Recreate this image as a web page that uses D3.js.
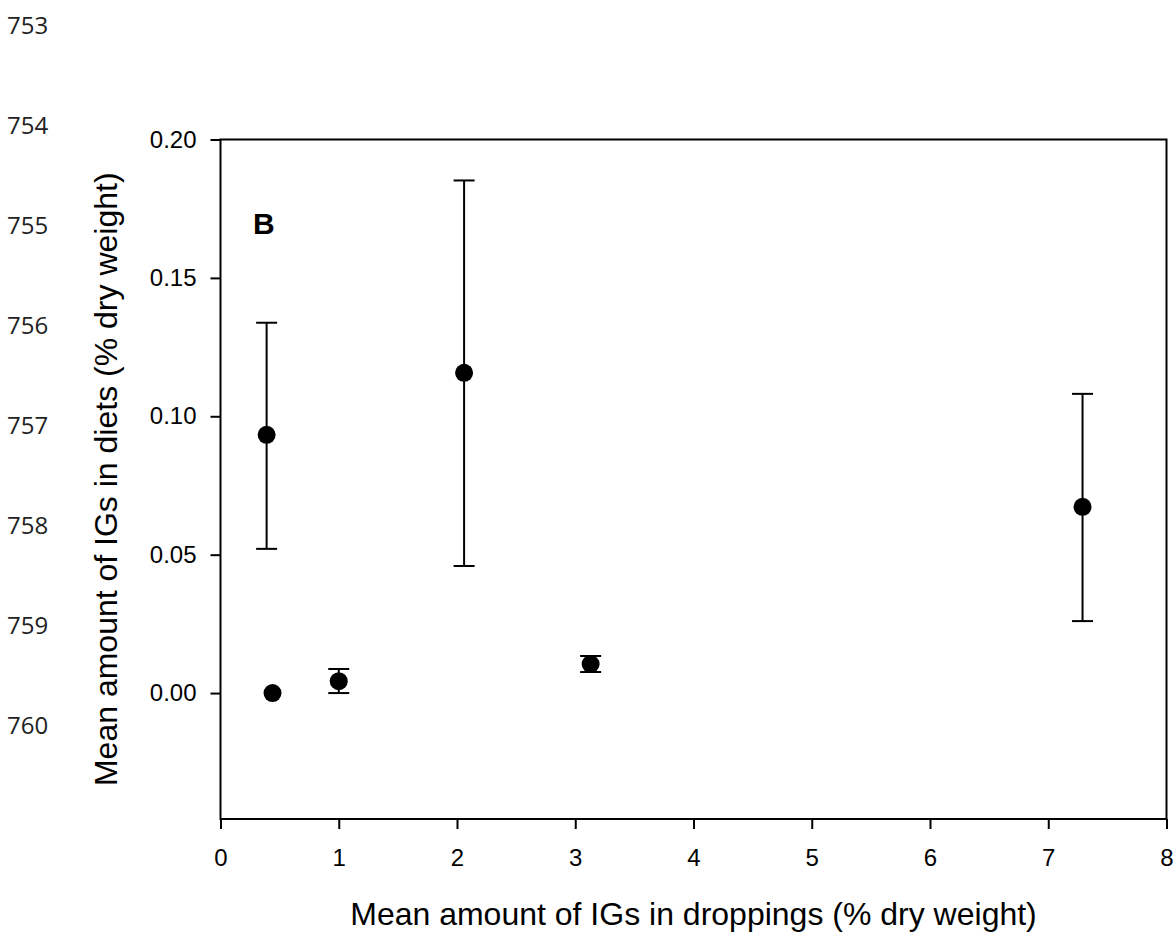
<!DOCTYPE html>
<html>
<head>
<meta charset="utf-8">
<script src="https://cdn.jsdelivr.net/npm/d3@7"></script>
<style>
  body { margin: 0; background: #fff; }
  svg { display: block; }
  .axis text { font-family: "Liberation Sans", Arial, sans-serif; font-size: 24px; fill: #000; }
  .axis path, .axis line { stroke: #000; stroke-width: 2; }
</style>
</head>
<body>
<svg width="1176" height="941"></svg>
<script>
// ---- Dados
const xVals = [0.39, 0.44, 1.00, 2.06, 3.13, 7.29];
const yVals = [0.0933, 0.0000, 0.0043, 0.1157, 0.0105, 0.0673];
const errLow = [0.0521, null, 0.0000, 0.0459, 0.0076, 0.0260];
const errHigh = [0.1338, null, 0.0087, 0.1852, 0.0134, 0.1081];
const xTicks = [0, 1, 2, 3, 4, 5, 6, 7, 8];
const yTicks = [0.00, 0.05, 0.10, 0.15, 0.20];
const lineNumbers = ['753', '754', '755', '756', '757', '758', '759', '760'];

const margens = { left: 220.5, right: 9.5, top: 139.5, bottom: 122 };
const svg = d3.select('svg');
const width = 1176 - margens.left - margens.right;
const height = 941 - margens.top - margens.bottom;

// ---- Escalas
const mapX = d3.scaleLinear().domain([0, 8]).range([0, width]);
const mapY = d3.scaleLinear().domain([-0.0455, 0.20]).range([height, 0]);

// ---- Numeros de linha (margem do manuscrito)
svg.append('g')
    .selectAll('text')
    .data(lineNumbers)
    .join('text')
    .attr('x', 7)
    .attr('y', (d, i) => 33.5 + i * 100)
    .attr('font-family', '"Open Sans", sans-serif')
    .attr('font-size', 24)
    .attr('fill', '#222')
    .text(d => d);

const g = svg.append('g')
    .attr('transform', `translate(${margens.left}, ${margens.top})`);

// ---- Moldura
g.append('rect')
    .attr('width', width)
    .attr('height', height)
    .attr('fill', 'none')
    .attr('stroke', '#000')
    .attr('stroke-width', 2);

// ---- Eixos
const xAxis = d3.axisBottom(mapX).tickValues(xTicks).tickFormat(d3.format('d')).tickSize(10).tickSizeOuter(0).tickPadding(20);
g.append('g')
    .attr('class', 'x axis')
    .attr('transform', `translate(0, ${height})`)
    .call(xAxis);

const yAxis = d3.axisLeft(mapY).tickValues(yTicks).tickFormat(d3.format('.2f')).tickSize(10).tickSizeOuter(0).tickPadding(14);
g.append('g')
    .attr('class', 'y axis')
    .call(yAxis);

g.selectAll('.axis .domain').remove();

// ---- Titulos
svg.append('text')
    .attr('x', margens.left + width / 2)
    .attr('y', 925)
    .attr('text-anchor', 'middle')
    .attr('font-family', '"Liberation Sans", Arial, sans-serif')
    .attr('font-size', 32)
    .text('Mean amount of IGs in droppings (% dry weight)');

svg.append('text')
    .attr('transform', `translate(117, ${margens.top + height / 2}) rotate(-90)`)
    .attr('text-anchor', 'middle')
    .attr('font-family', '"Liberation Sans", Arial, sans-serif')
    .attr('font-size', 32)
    .text('Mean amount of IGs in diets (% dry weight)');

g.append('text')
    .attr('x', 32.5)
    .attr('y', 94)
    .attr('font-family', '"Liberation Sans", Arial, sans-serif')
    .attr('font-size', 30)
    .attr('font-weight', 'bold')
    .text('B');

// ---- Barras de erro
const pontos = xVals.map((x, i) => ({ x, y: yVals[i], lo: errLow[i], hi: errHigh[i] }));
const comErro = pontos.filter(d => d.lo !== null);
const capW = 10.5;

const eg = g.append('g').attr('stroke', '#000').attr('stroke-width', 2);
eg.selectAll('.stem').data(comErro).join('line').attr('class', 'stem')
    .attr('x1', d => mapX(d.x)).attr('x2', d => mapX(d.x))
    .attr('y1', d => mapY(d.lo)).attr('y2', d => mapY(d.hi));
eg.selectAll('.capHi').data(comErro).join('line').attr('class', 'capHi')
    .attr('x1', d => mapX(d.x) - capW).attr('x2', d => mapX(d.x) + capW)
    .attr('y1', d => mapY(d.hi)).attr('y2', d => mapY(d.hi));
eg.selectAll('.capLo').data(comErro).join('line').attr('class', 'capLo')
    .attr('x1', d => mapX(d.x) - capW).attr('x2', d => mapX(d.x) + capW)
    .attr('y1', d => mapY(d.lo)).attr('y2', d => mapY(d.lo));

// ---- Pontos
g.selectAll('circle').data(pontos).join('circle')
    .attr('cx', d => mapX(d.x))
    .attr('cy', d => mapY(d.y))
    .attr('r', 9)
    .attr('fill', '#000');
</script>
</body>
</html>
